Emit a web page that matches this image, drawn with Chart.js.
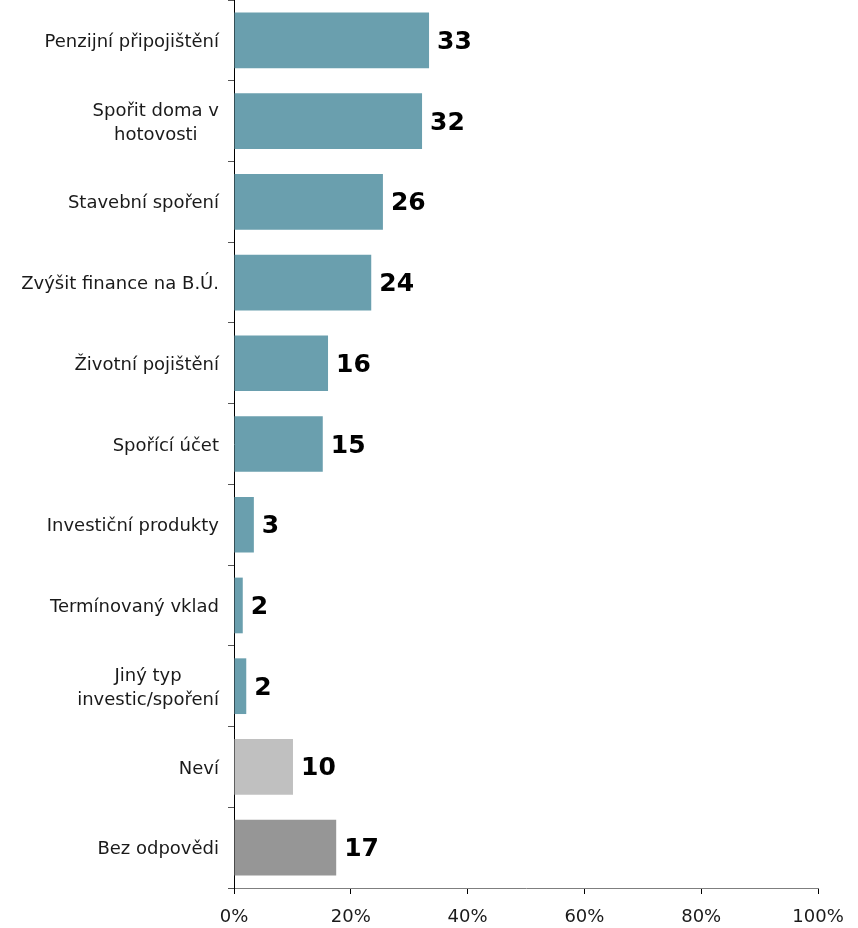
<!DOCTYPE html>
<html>
<head>
<meta charset="utf-8">
<script src="https://cdn.jsdelivr.net/npm/chart.js@4/dist/chart.umd.min.js"></script>
<style>
  html, body { margin: 0; padding: 0; background: #fff; }
  #wrap { width: 858px; height: 928px; }
</style>
</head>
<body>
<div id="wrap"><canvas id="myChart"></canvas></div>
<script>
const categories = [
  ["Penzijní připojištění"],
  ["Spořit doma v", "hotovosti"],
  ["Stavební spoření"],
  ["Zvýšit finance na B.Ú."],
  ["Životní pojištění"],
  ["Spořící účet"],
  ["Investiční produkty"],
  ["Termínovaný vklad"],
  ["Jiný typ", "investic/spoření"],
  ["Neví"],
  ["Bez odpovědi"],
];
const values = [33.4, 32.2, 25.5, 23.5, 16.1, 15.2, 3.4, 1.5, 2.1, 10.1, 17.5];
const valueLabels = ["33", "32", "26", "24", "16", "15", "3", "2", "2", "10", "17"];
const barColors = ["#6a9fae", "#6a9fae", "#6a9fae", "#6a9fae", "#6a9fae", "#6a9fae",
  "#6a9fae", "#6a9fae", "#6a9fae", "#c0c0c0", "#969696"];
const xTicks = [0, 20, 40, 60, 80, 100];

const FONT = "'DejaVu Sans', Verdana, sans-serif";

// category labels: block right aligned, lines centred on each other
const catLabels = {
  id: "catLabels",
  afterDraw(chart) {
    const ctx = chart.ctx;
    const y = chart.scales.y;
    ctx.save();
    ctx.font = "18px " + FONT;
    ctx.fillStyle = "#1a1a1a";
    ctx.textBaseline = "middle";
    ctx.textAlign = "center";
    const right = y.right - 15;
    const lh = 24;
    categories.forEach((lines, i) => {
      const cy = y.getPixelForTick(i) + 2;
      const w = Math.max(...lines.map((l) => ctx.measureText(l).width));
      const cx = right - w / 2;
      lines.forEach((l, j) => {
        ctx.fillText(l, cx, cy + (j - (lines.length - 1) / 2) * lh);
      });
    });
    ctx.restore();
  },
};

const valueText = {
  id: "valueText",
  afterDatasetsDraw(chart) {
    const ctx = chart.ctx;
    const meta = chart.getDatasetMeta(0);
    ctx.save();
    ctx.font = "bold 25px " + FONT;
    ctx.fillStyle = "#000";
    ctx.textBaseline = "middle";
    ctx.textAlign = "left";
    meta.data.forEach((bar, i) => {
      ctx.fillText(valueLabels[i], bar.x + 8, bar.y + 2);
    });
    ctx.restore();
  },
};

new Chart(document.getElementById("myChart"), {
  type: "bar",
  data: {
    labels: categories,
    datasets: [
      {
        data: values,
        backgroundColor: barColors,
        borderWidth: 0,
        barPercentage: 0.69,
        categoryPercentage: 1,
      },
    ],
  },
  options: {
    indexAxis: "y",
    responsive: true,
    maintainAspectRatio: false,
    animation: false,
    layout: { padding: { top: 0, right: 40, bottom: 0, left: 0 } },
    plugins: {
      legend: { display: false },
      tooltip: { enabled: false },
    },
    scales: {
      x: {
        min: 0,
        max: 100,
        afterBuildTicks: (scale) => {
          scale.ticks = xTicks.map((v) => ({ value: v }));
        },
        afterFit: (scale) => {
          scale.height = 40;
        },
        ticks: {
          callback: (v) => v + "%",
          color: "#1a1a1a",
          font: { family: FONT, size: 18 },
          padding: 13,
          maxRotation: 0,
        },
        grid: {
          drawOnChartArea: false,
          tickLength: 6,
          color: "#000",
        },
        border: { color: "#7f7f7f", width: 1 },
      },
      y: {
        afterFit: (scale) => {
          scale.width = 234;
        },
        ticks: { display: false },
        grid: {
          offset: true,
          drawOnChartArea: false,
          tickLength: 6,
          color: "#555",
        },
        border: { color: "#000", width: 1 },
      },
    },
  },
  plugins: [catLabels, valueText],
});
</script>
</body>
</html>
